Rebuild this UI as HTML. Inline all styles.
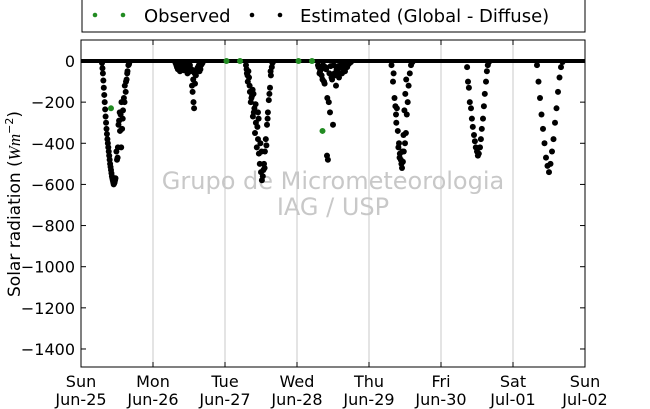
<!DOCTYPE html>
<html><head><meta charset="utf-8"><style>
body{margin:0;background:#fff;}
svg{display:block;font-family:"DejaVu Sans","Liberation Sans",sans-serif;}
</style></head><body>
<svg id="c" width="650" height="409"></svg>
<script>
const dayLabels=["Sun","Mon","Tue","Wed","Thu","Fri","Sat","Sun"];
const dateLabels=["Jun-25","Jun-26","Jun-27","Jun-28","Jun-29","Jun-30","Jul-01","Jul-02"];
const yTicks=[0,-200,-400,-600,-800,-1000,-1200,-1400];
// estimated series: hours since Sun Jun-25 00:00, values W/m2
const estHours=[
7,7.3,7.6,7.9,8.2,8.5,8.8,9.1,9.4,9.7,10,10.3,10.6,10.9,11.2,11.5,11.8,12,12.3,12.5,12.7,13,13.2,13.5,13.7,14,14.3,14.6,14.9,15.2,15.5,15.8,16.2,
7.15,7.45,7.75,8.05,8.35,8.65,8.95,9.25,9.55,9.85,10.15,10.45,10.75,11.05,11.35,12.2,12.9,13.4,13.9,14.5,15,15.4,16,
31.5,32,32.5,33,33.5,34,34.5,35,35.5,36,36.5,37,37.2,37.5,37.7,38,38.3,38.6,39,39.5,40,40.5,
31.8,32.3,32.8,33.3,33.8,34.3,34.8,35.3,35.8,36.3,36.8,37.4,37.9,38.8,39.3,39.8,40.2,
55,55.3,55.6,56,56.3,56.6,57,57.3,57.6,58,58.3,58.6,59,59.3,59.6,60,60.3,60.6,61,61.3,61.6,62,62.3,62.6,63,63.3,63.6,64,57.5,59,
55.2,55.5,55.8,56.2,56.8,57.2,57.8,58.2,58.8,59.2,59.8,60.2,60.8,61.2,61.8,62.2,62.8,63.2,63.8,
79,79.5,80,80.5,81,81.5,82,82.3,82.6,83,83.5,84,84.5,85,85.5,86,86.5,87,87.5,88,88.5,89,89.5,90,
79.2,79.7,80.2,80.7,81.2,81.7,82.1,82.8,83.2,83.7,84.2,84.7,85.2,85.7,86.2,86.7,87.2,87.7,88.2,88.7,89.2,
103.5,104,104.5,105,105.3,105.6,106,106.3,106.6,107,107.3,107.6,108,108.3,108.6,108.9,109.2,109.6,110,110.5,
104.2,104.8,105.1,105.8,106.2,106.8,107.1,107.5,107.8,108.1,108.4,
128.7,129,129.3,129.6,130,130.3,130.6,131,131.3,131.6,132,132.3,132.6,133,133.3,133.6,134,134.3,134.6,135,135.3,135.6,136,
152,152.5,153,153.5,154,154.5,155,155.5,156,156.5,157,157.5,158,158.5,159,159.5,160,160.5];
const estValues=[
-10,-60,-130,-200,-270,-330,-380,-420,-460,-500,-530,-560,-580,-600,-590,-570,-440,-480,-420,-310,-290,-340,-260,-200,-330,-240,-180,-120,-150,-90,-50,-20,-5,
-35,-95,-165,-235,-300,-355,-400,-440,-480,-515,-545,-570,-590,-595,-580,-470,-250,-420,-280,-200,-100,-60,-15,
-10,-30,-20,-50,-15,-30,-40,-20,-60,-30,-50,-120,-150,-200,-230,-110,-70,-40,-30,-50,-20,-10,
-20,-40,-10,-30,-25,-45,-15,-35,-55,-20,-40,-90,-60,-35,-20,-40,-15,
-20,-60,-100,-80,-150,-200,-170,-270,-250,-350,-300,-420,-380,-450,-500,-540,-580,-560,-500,-440,-380,-310,-250,-190,-130,-70,-30,-5,-160,-250,
-40,-70,-50,-120,-180,-140,-230,-210,-320,-280,-400,-440,-530,-520,-410,-280,-160,-50,-10,
-20,-60,-40,-90,-100,-30,-460,-480,-200,-250,-80,-310,-60,-120,-40,-80,-30,-60,-20,-50,-30,-15,-10,-5,
-30,-50,-70,-20,-110,-40,-180,-60,-25,-90,-20,-70,-40,-25,-60,-15,-35,-20,-10,-30,-15,
-20,-100,-180,-260,-230,-340,-400,-450,-480,-520,-490,-440,-400,-350,-260,-200,-120,-60,-20,-5,
-60,-220,-300,-420,-470,-500,-440,-360,-240,-160,-90,
-30,-100,-130,-200,-230,-280,-320,-360,-390,-420,-440,-460,-450,-420,-380,-330,-280,-220,-160,-100,-50,-20,-5,
-20,-100,-180,-260,-330,-400,-470,-510,-540,-500,-440,-380,-300,-230,-150,-80,-30,-5];
const obsHours=[10,48.5,53,72.5,77,80.5];
const obsValues=[-230,0,0,0,0,-340];

const NS="http://www.w3.org/2000/svg";
const svg=document.getElementById("c");
const L=81,R=585,T=40,B=367;
const x=h=>L+(R-L)*h/168;
const y=v=>61-v*0.2057;
function mk(tag,attrs,parent){const e=document.createElementNS(NS,tag);for(const k in attrs)e.setAttribute(k,attrs[k]);(parent||svg).appendChild(e);return e;}

dayLabels.forEach((d,i)=>{
  if(i>0&&i<7){const g=mk("line",{x1:x(i*24),x2:x(i*24),y1:T,y2:B,stroke:"#c8c8c8","stroke-width":1});
  
  }
});
const w1=mk("text",{x:333,y:189,"text-anchor":"middle","font-size":24,fill:"#c8c8c8"});w1.textContent="Grupo de Micrometeorologia";


const w2=mk("text",{x:333,y:215,"text-anchor":"middle","font-size":24,fill:"#c8c8c8"});w2.textContent="IAG / USP";


const zl=mk("line",{x1:x(0),x2:x(168),y1:y(0),y2:y(0),stroke:"#000","stroke-width":4});


estHours.forEach((h,i)=>{
  const p=mk("circle",{cx:x(h),cy:y(estValues[i]),r:3,fill:"#000"});
  
  
});
obsHours.forEach((h,i)=>{
  const p=mk("circle",{cx:x(h),cy:y(obsValues[i]),r:3,fill:"#228b22"});
  
  
});
const fr=mk("rect",{x:L,y:T,width:R-L,height:B-T,fill:"none",stroke:"#000","stroke-width":1});


yTicks.forEach(v=>{
  mk("line",{x1:L,x2:L+5,y1:y(v),y2:y(v),stroke:"#000"});
  mk("line",{x1:R,x2:R-5,y1:y(v),y2:y(v),stroke:"#000"});
  const t=mk("text",{x:75,y:y(v)+6,"text-anchor":"end","font-size":16});t.textContent=v===0?"0":"\u2212"+Math.abs(v);
  
  
});
dayLabels.forEach((d,i)=>{
  mk("line",{x1:x(i*24),x2:x(i*24),y1:B,y2:B-5,stroke:"#000"});
  mk("line",{x1:x(i*24),x2:x(i*24),y1:T,y2:T+5,stroke:"#000"});
  const a=mk("text",{x:x(i*24),y:387,"text-anchor":"middle","font-size":16});a.textContent=d;
  
  
  const b=mk("text",{x:x(i*24),y:405,"text-anchor":"middle","font-size":16});b.textContent=dateLabels[i];
  
  
});
const yt=mk("text",{transform:"translate(20,204) rotate(-90)","text-anchor":"middle","font-size":17});
yt.innerHTML='Solar radiation (<tspan font-style="italic" font-family="Liberation Serif, serif">Wm</tspan><tspan font-size="11" dy="-7">\u22122</tspan><tspan dy="7">)</tspan>';


const lg=mk("g",{});


mk("rect",{x:82,y:-1,width:503,height:33,fill:"#fff",stroke:"#000"},lg);
[[95,"#228b22"],[123,"#228b22"],[252,"#000"],[280,"#000"]].forEach(([cx,f])=>mk("circle",{cx:cx,cy:15,r:2.3,fill:f},lg));
const l1=mk("text",{x:144,y:22,"font-size":18},lg);l1.textContent="Observed";


const l2=mk("text",{x:300,y:22,"font-size":18},lg);l2.textContent="Estimated (Global - Diffuse)";


</script>
</body></html>
